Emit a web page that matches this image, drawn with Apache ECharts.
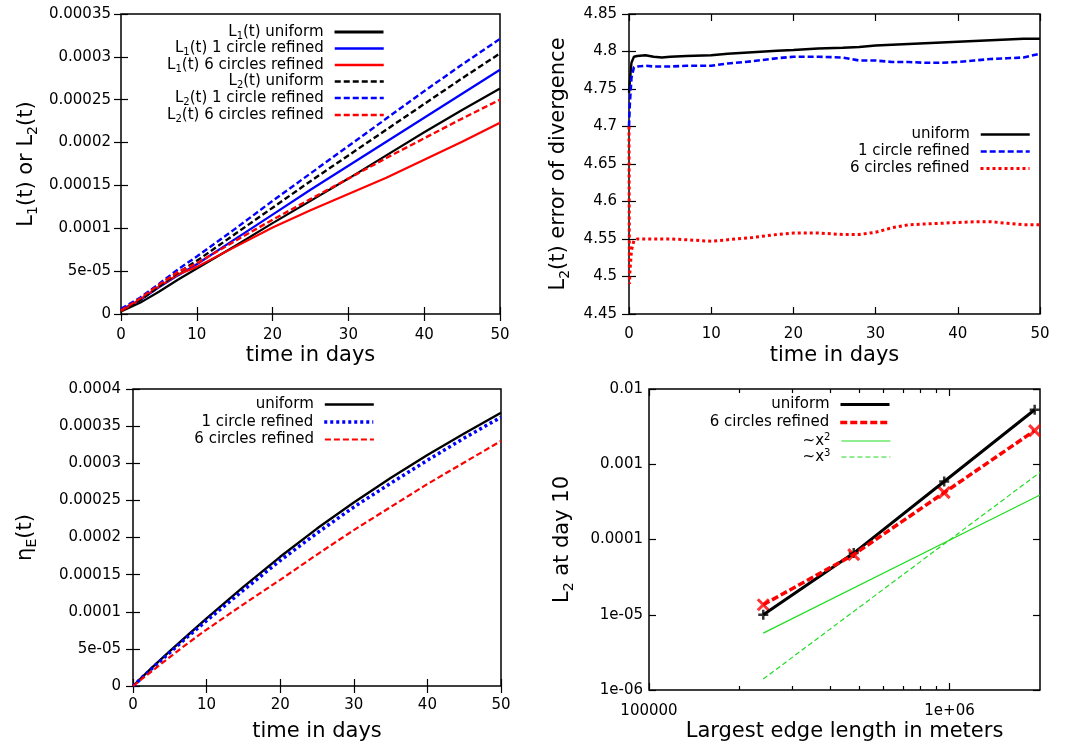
<!DOCTYPE html>
<html><head><meta charset="utf-8">
<script src="https://cdn.jsdelivr.net/npm/echarts@6/dist/echarts.min.js"></script>
<style>html,body{margin:0;padding:0;background:#fff}#c{width:1066px;height:746px}</style>
</head><body><div id="c"></div><script>
// ---------- Panel 1: L1(t) / L2(t) ----------
const t1 = [0, 2.5, 5, 7.5, 10, 15, 20, 25, 30, 35, 40, 45, 50];
const L1_uniform  = [0.3e-5, 1.3e-5, 2.6e-5, 4.0e-5, 5.3e-5, 7.9e-5, 1.06e-4, 1.32e-4, 1.58e-4, 1.85e-4, 2.12e-4, 2.38e-4, 2.63e-4];
const L1_circle1  = [0.5e-5, 1.6e-5, 3.1e-5, 4.5e-5, 5.8e-5, 8.7e-5, 1.16e-4, 1.45e-4, 1.73e-4, 2.01e-4, 2.29e-4, 2.57e-4, 2.85e-4];
const L1_circles6 = [0.3e-5, 1.7e-5, 3.2e-5, 4.6e-5, 5.5e-5, 7.8e-5, 1.01e-4, 1.21e-4, 1.40e-4, 1.59e-4, 1.80e-4, 2.01e-4, 2.23e-4];
const L2_uniform  = [0.4e-5, 1.6e-5, 3.2e-5, 4.8e-5, 6.2e-5, 9.3e-5, 1.24e-4, 1.55e-4, 1.85e-4, 2.15e-4, 2.45e-4, 2.75e-4, 3.04e-4];
const L2_circle1  = [0.6e-5, 1.9e-5, 3.5e-5, 5.2e-5, 6.7e-5, 9.9e-5, 1.32e-4, 1.64e-4, 1.96e-4, 2.28e-4, 2.60e-4, 2.91e-4, 3.21e-4];
const L2_circles6 = [0.4e-5, 1.8e-5, 3.4e-5, 4.9e-5, 5.9e-5, 8.5e-5, 1.10e-4, 1.34e-4, 1.58e-4, 1.82e-4, 2.05e-4, 2.28e-4, 2.50e-4];

// ---------- Panel 2: L2(t) error of divergence ----------
const t2 = [0, 0.05, 0.1, 0.3, 0.6, 1, 2, 3, 4, 5, 7, 10, 12, 15, 18, 20, 23, 26, 28, 30, 32, 34, 36, 38, 40, 42, 44, 46, 48, 50];
const div_uniform  = [4.745, 4.75, 4.76, 4.785, 4.793, 4.794, 4.795, 4.793, 4.792, 4.793, 4.794, 4.795, 4.797, 4.799, 4.801, 4.802, 4.804, 4.805, 4.806, 4.808, 4.809, 4.810, 4.811, 4.812, 4.813, 4.814, 4.815, 4.816, 4.817, 4.817];
const div_circle1  = [4.700, 4.715, 4.73, 4.765, 4.779, 4.780, 4.781, 4.780, 4.780, 4.780, 4.781, 4.781, 4.784, 4.787, 4.791, 4.793, 4.793, 4.792, 4.788, 4.788, 4.786, 4.786, 4.785, 4.785, 4.786, 4.788, 4.790, 4.791, 4.792, 4.797];
const div_circles6 = [4.700, 4.490, 4.505, 4.535, 4.548, 4.550, 4.550, 4.550, 4.550, 4.550, 4.549, 4.547, 4.549, 4.552, 4.556, 4.558, 4.558, 4.556, 4.556, 4.559, 4.565, 4.569, 4.570, 4.571, 4.572, 4.573, 4.573, 4.571, 4.569, 4.569];

// ---------- Panel 3: eta_E(t) ----------
const t3 = [0, 2.5, 5, 7.5, 10, 15, 20, 25, 30, 35, 40, 45, 50];
const eta_uniform  = [0, 2.4e-5, 4.7e-5, 6.9e-5, 9.1e-5, 1.335e-4, 1.74e-4, 2.12e-4, 2.47e-4, 2.80e-4, 3.11e-4, 3.40e-4, 3.68e-4];
const eta_circle1  = [0, 2.3e-5, 4.5e-5, 6.7e-5, 8.8e-5, 1.29e-4, 1.69e-4, 2.06e-4, 2.41e-4, 2.73e-4, 3.04e-4, 3.34e-4, 3.62e-4];
const eta_circles6 = [0, 1.95e-5, 3.9e-5, 5.8e-5, 7.6e-5, 1.10e-4, 1.43e-4, 1.77e-4, 2.10e-4, 2.41e-4, 2.72e-4, 3.01e-4, 3.30e-4];

// ---------- Panel 4: L2 at day 10 vs edge length ----------
const edge = [240000, 480000, 960000, 1920000];
const day10_uniform  = [1.0e-5, 6.6e-5, 5.9e-4, 5.3e-3];
const day10_circles6 = [1.36e-5, 6.3e-5, 4.2e-4, 2.8e-3];
const refEdge = [240000, 2000000];
const ref_x2 = [5.7e-6, 3.9e-4];
const ref_x3 = [1.4e-6, 7.8e-4];

// tick labels
const p4MajorX = [100000, 1000000];
const p4MinorX = [200000, 300000, 400000, 500000, 600000, 700000, 800000, 900000];

const FONT = 'DejaVu Sans';
function gfmt(v) {
  if (v === 0) return '0';
  v = +(+v).toPrecision(6);
  let e = Math.floor(Math.log10(Math.abs(v)) + 1e-9);
  if (e < -4 || e >= 6) {
    let m = +(v / Math.pow(10, e)).toPrecision(6);
    if (Math.abs(m) >= 10) { m /= 10; e += 1; }
    return String(m) + 'e' + (e < 0 ? '-' : '+') + String(Math.abs(e)).padStart(2, '0');
  }
  return String(v);
}
const pairs = (xs, ys) => xs.map((x, i) => [x, ys[i]]);

const grids = [
  {left: 121, top: 14, width: 379, height: 300},
  {left: 629, top: 14, width: 411, height: 300},
  {left: 133, top: 389, width: 368, height: 297},
  {left: 649, top: 389, width: 391, height: 301}
].map(g => Object.assign({show: true, borderColor: '#000', borderWidth: 1.5, backgroundColor: 'transparent', containLabel: false, outerBoundsMode: 'none'}, g));

const nameRich = {
  m: {fontFamily: FONT, fontSize: 21, color: '#000', lineHeight: 26},
  s: {fontFamily: FONT, fontSize: 14, color: '#000', lineHeight: 14, padding: [12, 0, 0, 0]}
};
const tickStyle = (len) => ({show: true, inside: true, length: len, lineStyle: {color: '#000', width: 1.2}});
const LBL = {show: true, fontFamily: FONT, fontSize: 15, color: '#000', formatter: gfmt, showMinLabel: true, showMaxLabel: true};
const xAxes = [], yAxes = [];
function addX(gi, o) {
  const common = {gridIndex: gi, type: o.type || 'value', min: o.min, max: o.max, splitLine: {show: false}, axisLine: {show: false}};
  if (o.interval) common.interval = o.interval;
  const main = Object.assign({}, common, {
    position: 'bottom', name: o.name, nameLocation: 'middle', nameGap: o.gap, nameMoveOverlap: false,
    nameTextStyle: {fontFamily: FONT, fontSize: 21, color: '#000'},
    axisTick: Object.assign(tickStyle(7), o.ticks ? {customValues: o.ticks} : {}),
    axisLabel: Object.assign({}, LBL, {margin: o.margin || 13}, o.labels ? {customValues: o.labels} : {})
  });
  const idx = xAxes.length;
  xAxes.push(main);
  xAxes.push(Object.assign({}, common, {position: 'top', axisTick: Object.assign(tickStyle(7), o.ticks ? {customValues: o.ticks} : {}), axisLabel: {show: false}}));
  if (o.minor) {
    ['bottom', 'top'].forEach(p => xAxes.push(Object.assign({}, common, {position: p, axisTick: Object.assign(tickStyle(4), {customValues: o.minor}), axisLabel: {show: false}})));
  }
  return idx;
}
function addY(gi, o) {
  const common = {gridIndex: gi, type: o.type || 'value', min: o.min, max: o.max, splitLine: {show: false}, axisLine: {show: false}};
  if (o.interval) common.interval = o.interval;
  const main = Object.assign({}, common, {
    position: 'left', name: o.name, nameLocation: 'middle', nameGap: o.gap, nameRotate: 90, nameMoveOverlap: false,
    nameTextStyle: {rich: nameRich},
    axisTick: tickStyle(7),
    axisLabel: Object.assign({}, LBL, {margin: o.margin || 9})
  });
  const idx = yAxes.length;
  yAxes.push(main);
  yAxes.push(Object.assign({}, common, {position: 'right', axisTick: tickStyle(7), axisLabel: {show: false}}));
  return idx;
}

const x1 = addX(0, {min: 0, max: 50, interval: 10, name: 'time in days', gap: 31, margin: 14});
const y1 = addY(0, {min: 0, max: 0.00035, interval: 0.00005, name: '{m|L}{s|1}{m|(t) or L}{s|2}{m|(t)}', gap: 81, margin: 10});
const x2 = addX(1, {min: 0, max: 50, interval: 10, name: 'time in days', gap: 31, margin: 13});
const y2 = addY(1, {min: 4.45, max: 4.85, interval: 0.05, name: '{m|L}{s|2}{m|(t) error of divergence}', gap: 57, margin: 12});
const x3 = addX(2, {min: 0, max: 50, interval: 10, name: 'time in days', gap: 35, margin: 12});
const y3 = addY(2, {min: 0, max: 0.0004, interval: 0.00005, name: '{m|η}{s|E}{m|(t)}', gap: 94, margin: 12});
const x4 = addX(3, {type: 'log', min: 100000, max: 2000000, name: 'Largest edge length in meters', gap: 31, margin: 14, ticks: p4MajorX, labels: p4MajorX, minor: p4MinorX});
const y4 = addY(3, {type: 'log', min: 1e-6, max: 0.01, name: '{m|L}{s|2}{m| at day 10}', gap: 73, margin: 6});

const series = [];
function line(id, xi, yi, data, color, width, dash) {
  series.push({
    id: id, name: id, type: 'line', xAxisIndex: xi, yAxisIndex: yi, data: data,
    symbol: 'none', showSymbol: false, smooth: false, animation: false, silent: true,
    lineStyle: {color: color, width: width, type: dash || 'solid', cap: 'butt'},
    itemStyle: {color: color}
  });
}
const BLUE = '#0000ff', RED = '#ff0000', BLACK = '#000000', GREEN = '#22dd22';
// panel 1
line('1|L1(t) uniform', x1, y1, pairs(t1, L1_uniform), BLACK, 2.2);
line('1|L1(t) 1 circle refined', x1, y1, pairs(t1, L1_circle1), BLUE, 2.2);
line('1|L1(t) 6 circles refined', x1, y1, pairs(t1, L1_circles6), RED, 2.2);
line('1|L2(t) uniform', x1, y1, pairs(t1, L2_uniform), BLACK, 2.4, [6, 3]);
line('1|L2(t) 1 circle refined', x1, y1, pairs(t1, L2_circle1), BLUE, 2.4, [6, 3]);
line('1|L2(t) 6 circles refined', x1, y1, pairs(t1, L2_circles6), RED, 2.4, [6, 3]);
// panel 2
line('2|uniform', x2, y2, pairs(t2, div_uniform), BLACK, 2.4);
line('2|1 circle refined', x2, y2, pairs(t2, div_circle1), BLUE, 2.6, [6, 3]);
line('2|6 circles refined', x2, y2, pairs(t2, div_circles6), RED, 3, [3, 3]);
// panel 3
line('3|uniform', x3, y3, pairs(t3, eta_uniform), BLACK, 2.4);
line('3|1 circle refined', x3, y3, pairs(t3, eta_circle1), BLUE, 3.5, [3, 3]);
line('3|6 circles refined', x3, y3, pairs(t3, eta_circles6), RED, 2.2, [6, 3]);
// panel 4
line('4|uniform', x4, y4, pairs(edge, day10_uniform), BLACK, 3);
line('4|6 circles refined', x4, y4, pairs(edge, day10_circles6), RED, 3.5, [7, 3]);
line('4|~x2', x4, y4, pairs(refEdge, ref_x2), GREEN, 1.2);
line('4|~x3', x4, y4, pairs(refEdge, ref_x3), GREEN, 1.2, [5, 3]);
series.push({type: 'scatter', xAxisIndex: x4, yAxisIndex: y4, data: pairs(edge, day10_uniform), symbol: 'path://M0,5L10,5M5,0L5,10', symbolSize: 10, silent: true, animation: false,
  itemStyle: {color: 'rgba(0,0,0,0)', borderColor: BLACK, borderWidth: 2.5}});
series.push({type: 'scatter', xAxisIndex: x4, yAxisIndex: y4, data: pairs(edge, day10_circles6), symbol: 'path://M0,0L10,10M10,0L0,10', symbolSize: 11, silent: true, animation: false,
  itemStyle: {color: 'rgba(0,0,0,0)', borderColor: RED, borderWidth: 3}});

const legRich = {
  m: {fontFamily: FONT, fontSize: 15, color: '#000', lineHeight: 18},
  s: {fontFamily: FONT, fontSize: 10, color: '#000', lineHeight: 10, padding: [8, 0, 0, 0]},
  u: {fontFamily: FONT, fontSize: 10, color: '#000', lineHeight: 10, padding: [0, 0, 8, 0]}
};
function fmtLegend(name) {
  const s = name.slice(2);
  let m;
  if ((m = s.match(/^L(\d)(.*)$/))) return '{m|L}{s|' + m[1] + '}{m|' + m[2] + '}';
  if ((m = s.match(/^~x(\d)$/))) return '{m|~x}{u|' + m[1] + '}';
  return '{m|' + s + '}';
}
const legends = [];
function leg(name, iconRight, cy, w) {
  legends.push({
    data: [name], orient: 'vertical', right: 1066 - iconRight, top: cy - 9, align: 'right', padding: 0,
    itemWidth: 49, itemHeight: 18, selectedMode: false, formatter: fmtLegend,
    lineStyle: {width: w},
    itemStyle: {color: 'rgba(0,0,0,0)', borderWidth: 0, borderColor: 'rgba(0,0,0,0)', opacity: 0},
    textStyle: {fontFamily: FONT, fontSize: 15, color: '#000', padding: [0, 6, 0, 0], rich: legRich}
  });
}
[['1|L1(t) uniform', 32, 3], ['1|L1(t) 1 circle refined', 48.5, 2.5], ['1|L1(t) 6 circles refined', 65, 2.5],
 ['1|L2(t) uniform', 81.5, 2.5], ['1|L2(t) 1 circle refined', 98, 2.5], ['1|L2(t) 6 circles refined', 115, 2.5]]
 .forEach(a => leg(a[0], 385, a[1], a[2]));
[['2|uniform', 136], ['2|1 circle refined', 153], ['2|6 circles refined', 170]].forEach((a, i) => leg(a[0], 1031, a[1], [2.5, 2.6, 3][i]));
[['3|uniform', 406], ['3|1 circle refined', 423.5], ['3|6 circles refined', 441]].forEach((a, i) => leg(a[0], 375, a[1], [2.4, 3.5, 2.2][i]));
[['4|uniform', 406], ['4|6 circles refined', 424], ['4|~x2', 441], ['4|~x3', 457]].forEach((a, i) => leg(a[0], 891, a[1], [3, 3.5, 1.2, 1.2][i]));

const chart = echarts.init(document.getElementById('c'), null, {renderer: 'canvas'});
chart.setOption({
  animation: false, backgroundColor: '#fff',
  textStyle: {fontFamily: FONT},
  grid: grids, xAxis: xAxes, yAxis: yAxes, legend: legends, series: series
});
</script></body></html>
